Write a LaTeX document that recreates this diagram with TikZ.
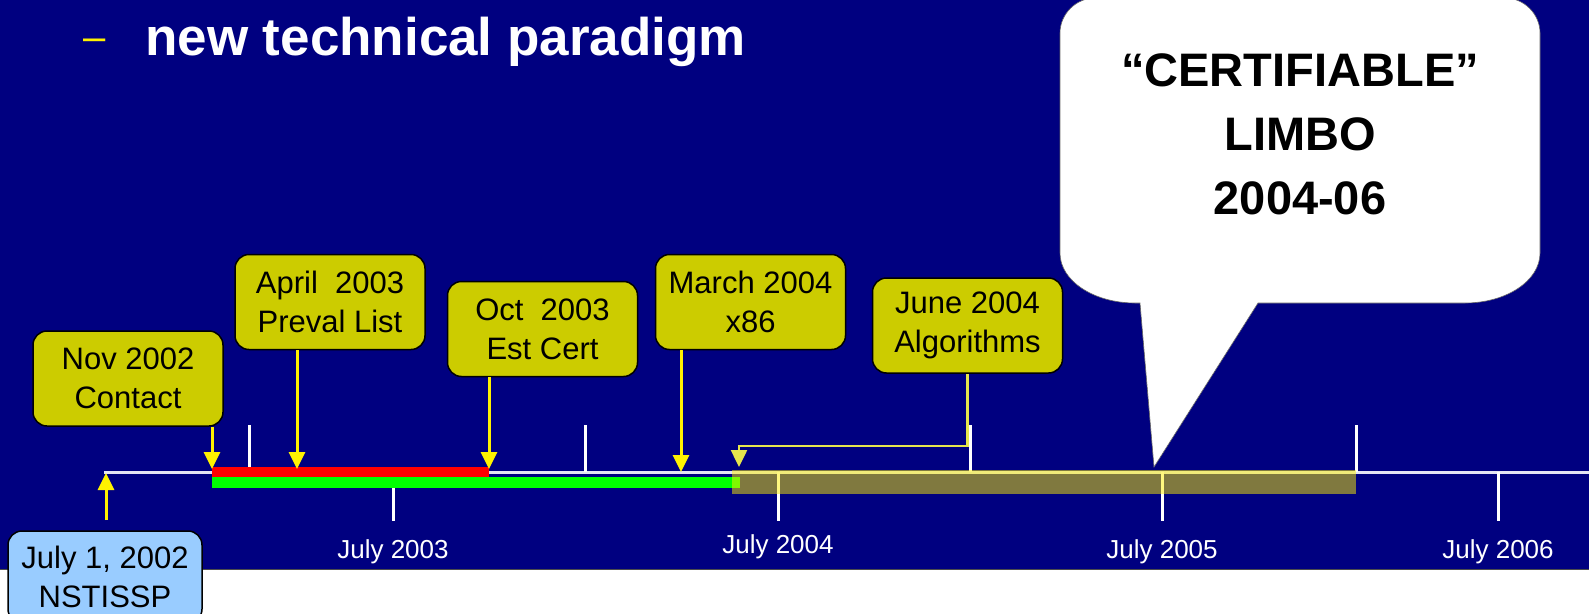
\documentclass[tikz,border=0pt]{standalone}
\usepackage{fontspec}
\setmainfont{Liberation Sans}
\usetikzlibrary{arrows.meta,positioning}
\usepackage{xcolor}
\definecolor{navy2}{HTML}{000080}
\definecolor{boxyellow}{HTML}{CCCC00}
\definecolor{boxblue}{HTML}{99CCFF}
\definecolor{linkyellow}{HTML}{E6E64D}
\definecolor{axiswhite}{HTML}{E4E4F4}

\tikzset{
  datebox/.style={draw=black, line width=1.5pt, rounded corners=14pt, fill=boxyellow, minimum width=190pt, minimum height=95pt, inner sep=0pt, align=center, font=\fontsize{31}{39}\selectfont},
  pointer/.style={draw=yellow, line width=3pt, -{Triangle[width=16pt,length=17pt]}},
  tickmark/.style={draw=white, line width=3pt},
  yearlabel/.style={text=white, anchor=base, font=\fontsize{26}{30}\selectfont}
}

\begin{document}
\begin{tikzpicture}[x=1pt,y=-1pt]
\clip (0,0) rectangle (1589,613);
\fill[white] (0,0) rectangle (1589,613);
\fill[navy2] (0,0) rectangle (1589,569);
\draw[black!70, line width=1pt] (0,569) -- (1589,569);

\node[text=yellow, anchor=base west, inner sep=0pt, font=\fontsize{40}{48}\selectfont] (dash) at (83,50) {–};
\node[text=white, anchor=base west, inner sep=0pt, font=\fontsize{53}{60}\selectfont\bfseries] (title) at (145,55) {new technical paradigm};

\coordinate (tstart) at (104,472);
\coordinate (tend) at (1589,472);
\draw[axiswhite, line width=3pt] (tstart) -- (tend);
\foreach \x in {249,585,970,1356} \draw[tickmark] (\x,425) -- (\x,472);
\foreach \x in {393,778,1162,1498} \draw[tickmark] (\x,472) -- (\x,521);

\fill[red] (212,467) rectangle (489,477);
\fill[green] (212,477) rectangle (740,488);
\fill[yellow, opacity=.5] (732,470) rectangle (1356,494);

\node[yearlabel] (y2003) at (393,558) {July 2003};
\node[yearlabel] (y2004) at (778,553) {July 2004};
\node[yearlabel] (y2005) at (1162,558) {July 2005};
\node[yearlabel] (y2006) at (1498,558) {July 2006};

\node[datebox] (nov) at (128,378.5) {Nov 2002\\Contact};
\node[datebox] (april) at (330,302) {April~~2003\\Preval List};
\node[datebox] (oct) at (542.5,329) {Oct~~2003\\Est Cert};
\node[datebox] (march) at (750.5,302) {March 2004\\x86};
\node[datebox] (june) at (967.5,325.5) {June 2004\\Algorithms};
\node[datebox, fill=boxblue, minimum width=194pt, minimum height=92pt] (nstissp) at (105,577) {July 1, 2002\\NSTISSP};

\coordinate (novend) at (212,469);
\coordinate (aprilend) at (297,469);
\coordinate (octend) at (489,469);
\coordinate (marchend) at (681,472);
\coordinate (julstart) at (106,520);
\coordinate (julend) at (106,473);
\coordinate (junecorner) at (739,446);
\coordinate (juneend) at (739,467);
\draw[pointer] (nov.south -| novend) -- (novend);
\draw[pointer] (april.south -| aprilend) -- (aprilend);
\draw[pointer] (oct.south -| octend) -- (octend);
\draw[pointer] (march.south -| marchend) -- (marchend);
\draw[pointer] (julstart) -- (julend);
\draw[pointer, draw=linkyellow, line width=2.5pt] (june.south) |- (junecorner) -- (juneend);

\filldraw[fill=white, draw=black!60, line width=0.6pt] (1095,-2) -- (1505,-2)
  .. controls (1524,-2) and (1540,14) .. (1540,33) -- (1540,253)
  .. controls (1540,281) and (1506,303) .. (1465,303) -- (1258,303) -- (1154,467) -- (1140,303) -- (1135,303)
  .. controls (1094,303) and (1060,281) .. (1060,253) -- (1060,33)
  .. controls (1060,14) and (1076,-2) .. (1095,-2) -- cycle;
\node[align=center, inner sep=0pt, font=\fontsize{47}{64}\selectfont\bfseries] (limbo) at (1300,134) {“CERTIFIABLE”\\LIMBO\\2004-06};
\end{tikzpicture}
\end{document}
